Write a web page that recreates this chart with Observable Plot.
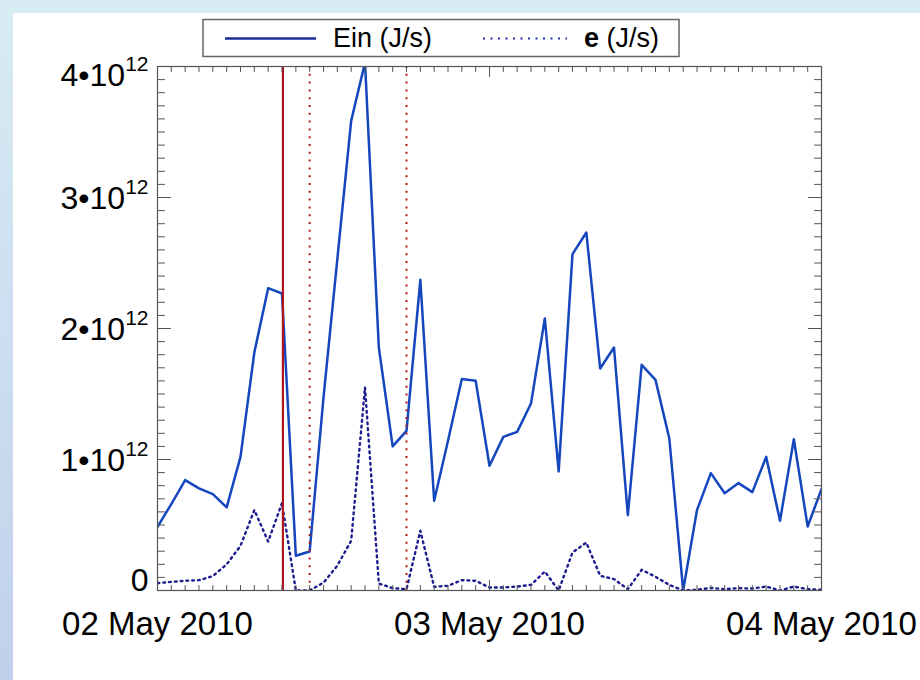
<!DOCTYPE html>
<html><head><meta charset="utf-8">
<script src="https://cdn.jsdelivr.net/npm/d3@7"></script>
<script src="https://cdn.jsdelivr.net/npm/@observablehq/plot@0.6"></script>
<style>
html,body{margin:0;padding:0;}
body{width:920px;height:680px;position:relative;overflow:hidden;background:linear-gradient(#d8ecf4,#c0d0ec);font-family:"Liberation Sans",Arial,Helvetica,sans-serif;}
#panel{position:absolute;left:13px;top:13px;width:907px;height:667px;background:#fff;}
#chart{position:absolute;left:0;top:0;width:920px;height:680px;}
#legend{position:absolute;left:0;top:0;}
</style>
</head><body>
<div id="panel"></div>
<div id="chart"></div>
<svg id="legend" width="920" height="70"></svg>
<script>
// Hourly samples, 02 May 2010 00:00 UT to 04 May 2010 00:00 UT (units of 10^12 J/s)
const startTime = new Date(Date.UTC(2010, 4, 2, 0));
const endTime = new Date(Date.UTC(2010, 4, 4, 0));
const times = d3.utcHours(startTime, new Date(Date.UTC(2010, 4, 4, 1)));

const einValues = [0.486, 0.66, 0.843, 0.78, 0.736, 0.634, 1.02, 1.817, 2.308, 2.267,
  0.265, 0.298, 1.473, 2.53, 3.585, 4.03, 1.855, 1.10, 1.219, 2.372,
  0.685, 1.143, 1.614, 1.601, 0.952, 1.173, 1.211, 1.428, 2.077, 0.909,
  2.568, 2.733, 1.695, 1.855, 0.575, 1.723, 1.608, 1.160, 0.0, 0.614,
  0.896, 0.743, 0.820, 0.751, 1.02, 0.532, 1.155, 0.489, 0.774];

const eValues = [0.056, 0.066, 0.074, 0.079, 0.11, 0.20, 0.341, 0.614, 0.374, 0.667,
  0.0, 0.0, 0.06, 0.19, 0.38, 1.55, 0.053, 0.018, 0.01, 0.456,
  0.028, 0.036, 0.079, 0.074, 0.023, 0.023, 0.03, 0.043, 0.145, 0.0,
  0.29, 0.366, 0.112, 0.087, 0.01, 0.158, 0.105, 0.043, 0.0, 0.005,
  0.02, 0.01, 0.018, 0.015, 0.03, 0.0, 0.03, 0.01, 0.005];

const eventSolid = ["2010-05-02T09:04:00Z"];
const eventDotted = ["2010-05-02T11:00:00Z", "2010-05-02T18:00:00Z"];
const dayTicks = ["2010-05-02T00:00:00Z", "2010-05-03T00:00:00Z", "2010-05-04T00:00:00Z"];
const yMajorTicks = [0, 1, 2, 3, 4];
const yTickLabels = ["0", "1•10^12", "2•10^12", "3•10^12", "4•10^12"];
const legendLabels = ["Ein (J/s)", "e (J/s)"];

const einData = times.map((t, i) => ({t, v: einValues[i]}));
const eData = times.map((t, i) => ({t, v: eValues[i]}));
const dayDates = dayTicks.map(d => new Date(d));
const hourTicks = d3.utcHours(startTime, new Date(Date.UTC(2010, 4, 4, 1)));
const yMinorTicks = d3.range(0, 41).map(k => k / 10);
const labelOf = v => yTickLabels[yMajorTicks.indexOf(v)];

const tickShape = {draw(ctx, l) { ctx.moveTo(0, 0); ctx.lineTo(0, -l); }};
const tk = (data, opts) => Plot.vector(data, {anchor: "start", shape: tickShape, stroke: "#555", strokeWidth: 1, ...opts});

const chart = Plot.plot({
  width: 920, height: 680,
  marginLeft: 157, marginRight: 99, marginTop: 66, marginBottom: 90,
  style: {background: "transparent", overflow: "visible", color: "#000", fontFamily: "Liberation Sans"},
  x: {type: "utc", domain: [startTime, endTime]},
  y: {domain: [0, 4]},
  marks: [
    Plot.lineY(eData, {x: "t", y: "v", stroke: "#1c1c8e", strokeWidth: 2.4, strokeDasharray: "1.8,4", clip: true}),
    Plot.lineY(einData, {x: "t", y: "v", stroke: "#1446be", strokeWidth: 2.5, clip: true}),
    Plot.ruleX(eventDotted, {x: d => new Date(d), stroke: "#b01818", strokeWidth: 2, strokeDasharray: "2,5.8"}),
    Plot.ruleX(eventSolid, {x: d => new Date(d), stroke: "#b0141c", strokeWidth: 2.2}),
    Plot.frame({stroke: "#555", strokeWidth: 1.2}),
    // x ticks (inward)
    tk(hourTicks, {x: d => d, frameAnchor: "bottom", length: 5, rotate: 0}),
    tk(hourTicks, {x: d => d, frameAnchor: "top", length: 5, rotate: 180}),
    tk(dayDates, {x: d => d, frameAnchor: "bottom", length: 10, rotate: 0}),
    tk(dayDates, {x: d => d, frameAnchor: "top", length: 10, rotate: 180}),
    // y ticks (inward)
    tk(yMinorTicks, {y: d => d, frameAnchor: "left", length: 7, rotate: 90}),
    tk(yMinorTicks, {y: d => d, frameAnchor: "right", length: 7, rotate: -90}),
    tk(yMajorTicks, {y: d => d, frameAnchor: "left", length: 13, rotate: 90}),
    tk(yMajorTicks, {y: d => d, frameAnchor: "right", length: 13, rotate: -90}),
    Plot.axisX({ticks: dayDates, tickFormat: d3.utcFormat("%d %b %Y"), tickSize: 0, tickPadding: 21, fontSize: 33, anchor: "bottom", label: null}),
    Plot.axisY({ticks: [1, 2, 3], tickFormat: labelOf, tickSize: 0, tickPadding: 9, fontSize: 32, dy: 1, anchor: "left", label: null}),
    Plot.axisY({ticks: [4], tickFormat: labelOf, tickSize: 0, tickPadding: 9, fontSize: 32, dy: 9, anchor: "left", label: null}),
    Plot.axisY({ticks: [0], tickFormat: labelOf, tickSize: 0, tickPadding: 9, fontSize: 32, dy: -10, anchor: "left", label: null})
  ]
});
document.getElementById("chart").appendChild(chart);

// superscript exponents
d3.select(chart).selectAll("text").each(function() {
  const s = this.textContent;
  if (s.includes("^")) {
    const [base, exp] = s.split("^");
    const sel = d3.select(this);
    sel.text(null);
    sel.append("tspan").text(base);
    sel.append("tspan").attr("dy", "-15").attr("font-size", 21).text(exp);
  }
});

// legend
const lg = d3.select("#legend");
lg.append("rect").attr("x", 203).attr("y", 19.5).attr("width", 476).attr("height", 37)
  .attr("fill", "#fff").attr("stroke", "#666").attr("stroke-width", 1.5);
lg.append("line").attr("x1", 225).attr("x2", 316).attr("y1", 38.5).attr("y2", 38.5)
  .attr("stroke", "#1c2a98").attr("stroke-width", 2.5);
lg.append("text").attr("x", 333).attr("y", 46.5).attr("font-size", 27).attr("fill", "#000").text(legendLabels[0]);
lg.append("line").attr("x1", 483).attr("x2", 567).attr("y1", 38.5).attr("y2", 38.5)
  .attr("stroke", "#2030a8").attr("stroke-width", 2.2).attr("stroke-dasharray", "2,5.5");
const t2 = lg.append("text").attr("x", 584).attr("y", 46.5).attr("font-size", 27).attr("fill", "#000");
t2.append("tspan").attr("font-weight", "bold").text(legendLabels[1].slice(0, 1));
t2.append("tspan").text(legendLabels[1].slice(1));
</script>
</body></html>
